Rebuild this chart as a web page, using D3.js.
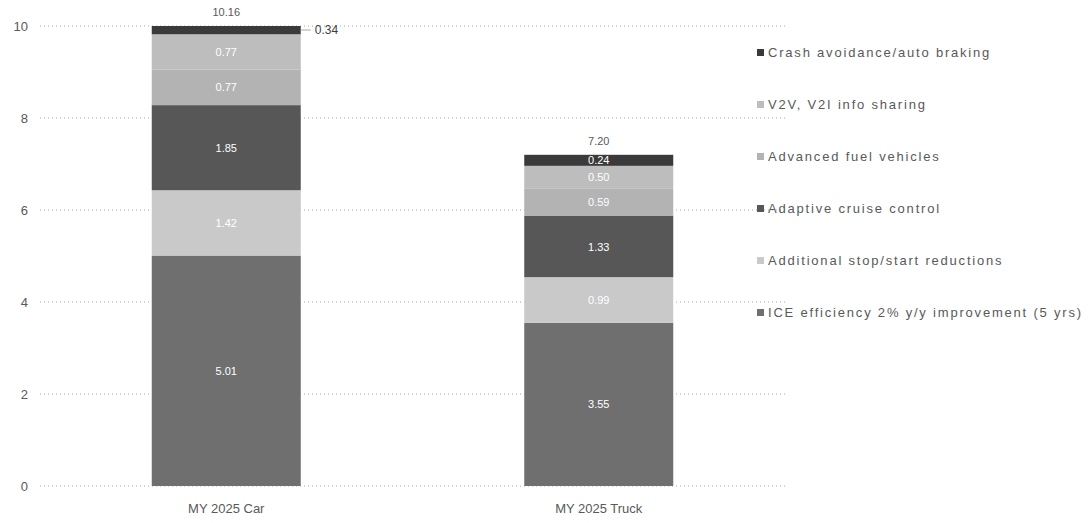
<!DOCTYPE html>
<html>
<head>
<meta charset="utf-8">
<script src="https://cdn.jsdelivr.net/npm/d3@7"></script>
<style>
  body { margin: 0; background: #fff; }
  text { font-family: "Liberation Sans", "DejaVu Sans", sans-serif; }
  .tick text { fill: #595959; font-size: 13px; }
  .grid line { stroke: #a6a6a6; stroke-dasharray: 1 3; }
</style>
</head>
<body>
<svg id="chart" width="1090" height="523"></svg>
<script>
// data
const categories = ["MY 2025 Car", "MY 2025 Truck"];
const seriesNames = [
  "ICE efficiency 2% y/y improvement (5 yrs)",
  "Additional stop/start reductions",
  "Adaptive cruise control",
  "Advanced fuel vehicles",
  "V2V, V2I info sharing",
  "Crash avoidance/auto braking"
];
const carValues   = [5.01, 1.42, 1.85, 0.77, 0.77, 0.34];
const truckValues = [3.55, 0.99, 1.33, 0.59, 0.50, 0.24];
const totals = [10.16, 7.20];
const yTicks = [0, 2, 4, 6, 8, 10];

const colors = ["#6f6f6f", "#c9c9c9", "#575757", "#b3b3b3", "#bdbdbd", "#3a3a3a"];

const svg = d3.select("#chart");
const plotLeft = 40, plotRight = 785, plotTop = 26, plotBottom = 486;

const x = d3.scaleBand()
  .domain(categories)
  .range([plotLeft, plotRight])
  .paddingInner(0.6)
  .paddingOuter(0.3);

const y = d3.scaleLinear().domain([0, 10]).range([plotBottom, plotTop]);

// gridlines
svg.append("g")
  .classed("grid", true)
  .selectAll("line")
  .data(yTicks)
  .enter()
  .append("line")
  .attr("x1", plotLeft)
  .attr("x2", plotRight)
  .attr("y1", d => y(d))
  .attr("y2", d => y(d));

// y axis labels
svg.append("g")
  .attr("transform", "translate(" + plotLeft + ",0)")
  .call(d3.axisLeft(y).tickValues(yTicks).tickSize(0).tickPadding(12).tickFormat(d3.format("d")))
  .call(g => g.select(".domain").remove());

// category labels
svg.append("g")
  .attr("transform", "translate(0," + (plotBottom + 6) + ")")
  .call(d3.axisBottom(x).tickSize(0).tickPadding(12))
  .call(g => g.select(".domain").remove());

// stacking
const table = categories.map(function(c, i) {
  let row = { cat: c };
  let vals = i == 0 ? carValues : truckValues;
  seriesNames.forEach(function(s, j) { row[s] = vals[j]; });
  return row;
});
const stacked = d3.stack().keys(seriesNames)(table);

svg.append("clipPath")
  .attr("id", "plotClip")
  .append("rect")
  .attr("x", plotLeft).attr("y", plotTop)
  .attr("width", plotRight - plotLeft).attr("height", plotBottom - plotTop);

const layers = svg.append("g")
  .attr("clip-path", "url(#plotClip)")
  .selectAll("g")
  .data(stacked)
  .enter()
  .append("g")
  .attr("fill", (d, i) => colors[i]);

layers.selectAll("rect")
  .data(d => d)
  .enter()
  .append("rect")
  .attr("x", d => x(d.data.cat))
  .attr("width", x.bandwidth())
  .attr("y", d => y(d[1]))
  .attr("height", d => y(d[0]) - y(d[1]));

// value labels inside segments
stacked.forEach(function(layer, j) {
  layer.forEach(function(d, i) {
    let v = d[1] - d[0];
    let cx = x(d.data.cat) + x.bandwidth() / 2;
    if (i == 0 && j == seriesNames.length - 1) {
      // clipped top segment of the car bar: label outside with leader
      let ly = y(10) + 4;
      svg.append("line")
        .attr("x1", x(d.data.cat) + x.bandwidth())
        .attr("x2", x(d.data.cat) + x.bandwidth() + 10)
        .attr("y1", ly).attr("y2", ly)
        .attr("stroke", "#a6a6a6");
      svg.append("text")
        .attr("x", x(d.data.cat) + x.bandwidth() + 14)
        .attr("y", ly + 4)
        .attr("font-size", 12)
        .attr("fill", "#404040")
        .text(v.toFixed(2));
      return;
    }
    svg.append("text")
      .attr("x", cx)
      .attr("y", y((d[0] + d[1]) / 2) + 4)
      .attr("text-anchor", "middle")
      .attr("font-size", 11)
      .attr("fill", "#ffffff")
      .text(v.toFixed(2));
  });
});

// totals
svg.selectAll(".totalLabel")
  .data(categories)
  .enter()
  .append("text")
  .classed("totalLabel", true)
  .attr("x", d => x(d) + x.bandwidth() / 2)
  .attr("y", (d, i) => Math.max(y(totals[i]), plotTop) - 10)
  .attr("text-anchor", "middle")
  .attr("font-size", 11)
  .attr("fill", "#595959")
  .text((d, i) => totals[i].toFixed(2));

// legend, top item is last series
const legendItems = seriesNames.slice().reverse();
const legend = svg.append("g")
  .selectAll("g")
  .data(legendItems)
  .enter()
  .append("g")
  .attr("transform", (d, i) => "translate(757," + (53 + i * 52) + ")");

legend.append("rect")
  .attr("x", 0).attr("y", -4)
  .attr("width", 7).attr("height", 7)
  .attr("fill", d => colors[seriesNames.indexOf(d)]);

legend.append("text")
  .attr("x", 11)
  .attr("y", 4)
  .attr("font-size", 13)
  .attr("letter-spacing", 1.8)
  .attr("fill", "#595959")
  .text(d => d);
</script>
</body>
</html>
